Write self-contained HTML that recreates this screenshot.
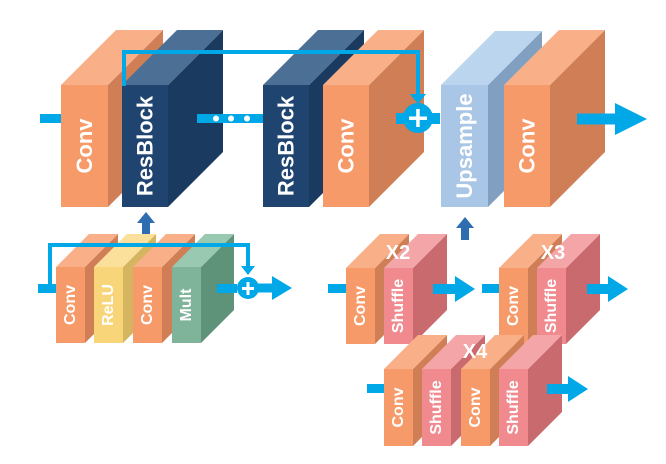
<!DOCTYPE html>
<html><head><meta charset="utf-8"><style>
html,body{margin:0;padding:0;background:#fff;}
svg{display:block;}
text{font-family:"Liberation Sans",sans-serif;font-weight:bold;fill:#fff;}
</style></head><body>
<svg id="s" width="666" height="464" viewBox="0 0 666 464" xmlns="http://www.w3.org/2000/svg"></svg>
<script>
const S=document.getElementById('s');let h='';
const C={conv:['#F79A6A','#F9B088','#D07E56'],res:['#1F4470','#4C6F96','#1A3A60'],up:['#A9C6E6','#BCD5EF','#819FC0'],sh:['#F08A8F','#F4A5A8','#C96A6E'],relu:['#F9D57A','#FBE09C','#D6B560'],mult:['#7FB39A','#9AC9B1','#5E9279']};
function blk(x,y,w,hh,d,c,label,fs){const k=C[c];
h+=`<polygon points="${x+w},${y} ${x+w+d},${y-d} ${x+w+d},${y+hh-d} ${x+w},${y+hh}" fill="${k[2]}"/>`;
h+=`<polygon points="${x},${y} ${x+d},${y-d} ${x+w+d},${y-d} ${x+w},${y}" fill="${k[1]}"/>`;
h+=`<rect x="${x}" y="${y}" width="${w}" height="${hh}" fill="${k[0]}"/>`;
const cx=x+w/2,cy=y+hh/2;
h+=`<text x="${cx}" y="${cy}" font-size="${fs}" text-anchor="middle" dominant-baseline="central" transform="rotate(-90 ${cx} ${cy})">${label}</text>`;}
const B='#00A8E8';
function arrow(x1,x2,y,t,hl,hw){h+=`<rect x="${x1}" y="${y-t/2}" width="${x2-x1-hl}" height="${t}" fill="${B}"/><polygon points="${x2-hl},${y-hw} ${x2},${y} ${x2-hl},${y+hw}" fill="${B}"/>`;}
h+=`<rect x="40" y="114" width="22" height="9" fill="${B}"/>`;
blk(61,85,47,122,55,'conv','Conv',22);
blk(122,85,46,122,55,'res','ResBlock',22);
h+=`<rect x="197" y="114" width="67" height="9" fill="${B}"/>`;
[216,231,247].forEach(x=>h+=`<circle cx="${x}" cy="118.5" r="3" fill="#fff"/>`);
blk(263,85,46,122,55,'res','ResBlock',22);
blk(323,85,46,122,55,'conv','Conv',22);
h+=`<polyline points="124,86 124,52 418,52 418,96" fill="none" stroke="${B}" stroke-width="4"/>`;
h+=`<polygon points="410,94 426,94 418,104" fill="${B}"/>`;
h+=`<rect x="396" y="113" width="44" height="11" fill="${B}"/>`;
h+=`<circle cx="418" cy="118" r="15" fill="${B}"/><rect x="409" y="116.5" width="18" height="3.5" fill="#fff"/><rect x="416.2" y="109" width="3.5" height="18" fill="#fff"/>`;
blk(441,85,47,122,54,'up','Upsample',22);
blk(504,85,46,122,55,'conv','Conv',22);
arrow(577,647,119,11,32,16);
h+=`<rect x="142" y="221" width="8" height="18" fill="#2E6DB0"/><polygon points="137,223 155,223 146,212" fill="#2E6DB0"/>`;
h+=`<rect x="461" y="226" width="8" height="14" fill="#2E6DB0"/><polygon points="456,228 474,228 465,217" fill="#2E6DB0"/>`;
h+=`<rect x="38" y="284" width="19" height="9" fill="${B}"/>`;
blk(56,267,29,76,33,'conv','Conv',16);
blk(94,267,29,76,33,'relu','ReLU',16);
blk(133,267,29,76,33,'conv','Conv',16);
blk(172,267,29,76,33,'mult','Mult',16);
h+=`<polyline points="50,288 50,245 248,245 248,268" fill="none" stroke="${B}" stroke-width="4"/>`;
h+=`<polygon points="241,266 255,266 248,275" fill="${B}"/>`;
h+=`<rect x="217" y="284" width="20" height="9" fill="${B}"/>`;
h+=`<circle cx="248" cy="288" r="11" fill="${B}"/><rect x="242" y="287" width="12" height="3" fill="#fff"/><rect x="246.5" y="282" width="3" height="13" fill="#fff"/>`;
arrow(258,292,288,9,20,12);
h+=`<rect x="328" y="284" width="19" height="9" fill="${B}"/>`;
blk(346,268,29,76,34,'conv','Conv',16);
blk(384,268,29,76,34,'sh','Shuffle',16);
h+=`<text x="398" y="253" font-size="20" text-anchor="middle" dominant-baseline="central">X2</text>`;
arrow(433,475,289,10,20,13);
h+=`<rect x="482" y="284" width="18" height="9" fill="${B}"/>`;
blk(499,268,29,76,34,'conv','Conv',16);
blk(537,268,29,76,34,'sh','Shuffle',16);
h+=`<text x="553" y="253" font-size="20" text-anchor="middle" dominant-baseline="central">X3</text>`;
arrow(587,628,289,10,20,13);
h+=`<rect x="367" y="384" width="18" height="9" fill="${B}"/>`;
blk(384,369,29,77,34,'conv','Conv',16);
blk(422,369,29,77,34,'sh','Shuffle',16);
blk(461,369,29,77,34,'conv','Conv',16);
blk(499,369,29,77,34,'sh','Shuffle',16);
h+=`<text x="475" y="352" font-size="20" text-anchor="middle" dominant-baseline="central">X4</text>`;
arrow(547,588,389,10,20,13);
S.innerHTML=h;
</script>
</body></html>
